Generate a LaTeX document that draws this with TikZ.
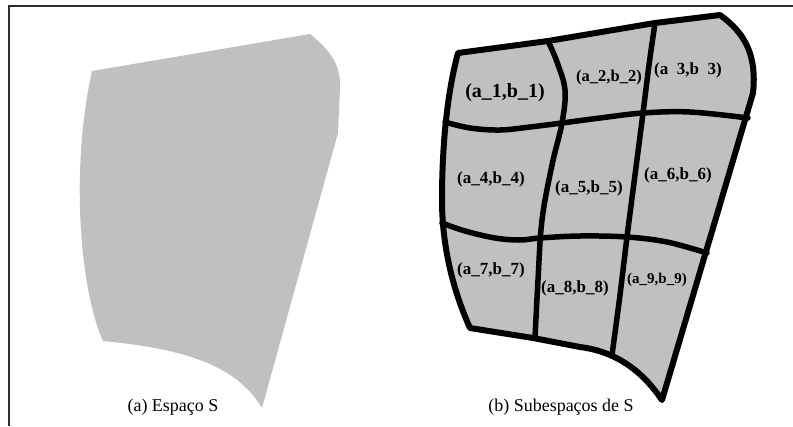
\documentclass[tikz,border=0pt]{standalone}
\usepackage{fontspec}
\setmainfont{Liberation Serif}
\definecolor{silver}{RGB}{192,192,192}
\definecolor{framegray}{RGB}{45,45,45}
\begin{document}
\begin{tikzpicture}[x=1pt,y=-1pt,
  region/.style={fill=silver},
  border/.style={draw=black, line width=6pt, line join=round},
  gridline/.style={draw=black, line width=5.5pt, line cap=round},
  lbl/.style={font=\bfseries\fontsize{17}{20}\selectfont, inner sep=0pt},
  captiontext/.style={font=\fontsize{18}{21}\selectfont, inner sep=0pt, anchor=base},
  frameline/.style={draw=framegray, line width=1.5pt}]
\useasboundingbox (0,0) rectangle (793,426);
% frame
\draw[frameline] (9,426) -- (9,6) -- (793,6);
% (a) region
\fill[region] (92,71) -- (310,34) .. controls (330,50) and (341,65) .. (340,88)
  -- (338,133) -- (262,408) .. controls (240,372) and (200,350) .. (103,341)
  .. controls (80,290) and (70,170) .. (92,71) -- cycle;
% (b) region
\fill[region] (458,53) -- (548,41) -- (655,23) -- (720,15)
  .. controls (745,33) and (757,55) .. (753,93) -- (662,400)
  .. controls (645,375) and (620,352) .. (580,347) -- (533,338) -- (470,328)
  .. controls (455,295) and (442,250) .. (442,200)
  .. controls (442,140) and (448,90) .. (458,53) -- cycle;
% grid lines
\draw[gridline] plot[smooth, tension=0.6] coordinates {(548,41) (557,62) (565,90) (562,123) (552,165) (542,220) (538,280) (535,338)};
\draw[gridline] plot[smooth, tension=0.6] coordinates {(655,23) (649,65) (643,113) (635,175) (627,237) (620,295) (612,355)};
\draw[gridline] plot[smooth, tension=0.6] coordinates {(445,122) (470,128) (500,130) (530,127) (562,123) (600,118) (643,113) (690,112) (748,118)};
\draw[gridline] plot[smooth, tension=0.6] coordinates {(442,223) (465,231) (495,238) (520,240) (540,238) (580,236) (627,237) (667,242) (707,253)};
% (b) outline
\draw[border] (458,53) -- (548,41) -- (655,23) -- (720,15)
  .. controls (745,33) and (757,55) .. (753,93) -- (662,400)
  .. controls (645,375) and (620,352) .. (580,347) -- (533,338) -- (470,328)
  .. controls (455,295) and (442,250) .. (442,200)
  .. controls (442,140) and (448,90) .. (458,53) -- cycle;
% labels
\node[lbl, font=\bfseries\fontsize{20}{23}\selectfont] (l1) at (505,93) {(a\_1,b\_1)};
\node[lbl, font=\bfseries\fontsize{16.5}{19}\selectfont] (l2) at (609,78) {(a\_2,b\_2)};
\node[lbl] (l3) at (688,70) {(a\phantom{\_}3,b\phantom{\_}3)};
\node[lbl] (l4) at (491,179) {(a\_4,b\_4)};
\node[lbl] (l5) at (589,188) {(a\_5,b\_5)};
\node[lbl] (l6) at (678,175) {(a\_6,b\_6)};
\node[lbl] (l7) at (491,270) {(a\_7,b\_7)};
\node[lbl] (l8) at (575,288) {(a\_8,b\_8)};
\node[lbl, font=\bfseries\fontsize{15}{18}\selectfont] (l9) at (657,280) {(a\_9,b\_9)};
% captions
\node[captiontext] (capa) at (173,411) {(a) Espaço S};
\node[captiontext] (capb) at (561,411) {(b) Subespaços de S};
\end{tikzpicture}
\end{document}
